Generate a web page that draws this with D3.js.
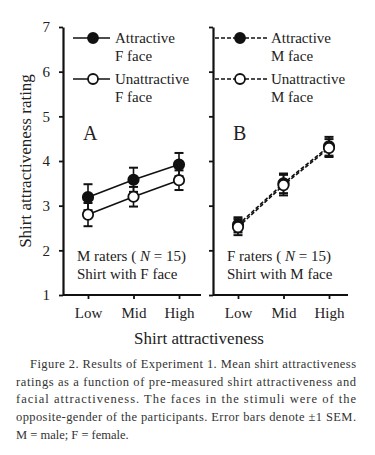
<!DOCTYPE html>
<html>
<head>
<meta charset="utf-8">
<script src="https://cdn.jsdelivr.net/npm/d3@7"></script>
<style>
  body { margin: 0; background: #fff; }
  svg { display: block; font-family: "Liberation Serif", "Times New Roman", serif; }
</style>
</head>
<body>
<div id="canvas"></div>
<script>
"use strict"

let svgWidth = 375;
let svgHeight = 455;

/* data */
let levels = ["Low", "Mid", "High"];
let yTicks = [1, 2, 3, 4, 5, 6, 7];

/* panel A: male raters, female face */
let attrF = [3.19, 3.58, 3.92];
let attrFSem = [0.29, 0.27, 0.26];
let unattrF = [2.80, 3.20, 3.57];
let unattrFSem = [0.26, 0.22, 0.22];

/* panel B: female raters, male face */
let attrM = [2.57, 3.50, 4.33];
let attrMSem = [0.17, 0.22, 0.21];
let unattrM = [2.52, 3.46, 4.29];
let unattrMSem = [0.18, 0.23, 0.20];

let captionLines = [
    "Figure 2. Results of Experiment 1. Mean shirt attractiveness",
    "ratings as a function of pre-measured shirt attractiveness and",
    "facial attractiveness. The faces in the stimuli were of the",
    "opposite-gender of the participants. Error bars denote \u00b11 SEM.",
    "M = male; F = female."
];

let svg = d3.select("#canvas")
    .append("svg")
    .attr("width", svgWidth)
    .attr("height", svgHeight);

let yScale = d3.scaleLinear()
    .domain([1, 7])
    .range([295, 27]);

let panels = [
    { x0: 63, x1: 201, label: "A", dashed: false, showLabels: true,
      series: [{ v: attrF, e: attrFSem, filled: true }, { v: unattrF, e: unattrFSem, filled: false }],
      legend: [["Attractive", "F face"], ["Unattractive", "F face"]],
      note: ["M raters ( ", "N", " = 15)", "Shirt with F face"] },
    { x0: 213, x1: 348, label: "B", dashed: true, showLabels: false,
      series: [{ v: attrM, e: attrMSem, filled: true }, { v: unattrM, e: unattrMSem, filled: false }],
      legend: [["Attractive", "M face"], ["Unattractive", "M face"]],
      note: ["F raters ( ", "N", " = 15)", "Shirt with M face"] }
];

panels.forEach(function (p) {
    let g = svg.append("g");

    let xScale = d3.scalePoint()
        .domain(levels)
        .range([p.x0 + 25, p.x0 + 116]);

    /* y axis */
    let yAxis = d3.axisLeft(yScale)
        .tickValues(yTicks)
        .tickFormat(d3.format("d"))
        .tickSize(4)
        .tickSizeOuter(0)
        .tickPadding(9);
    if (!p.showLabels) yAxis.tickFormat("");
    let ya = g.append("g")
        .attr("transform", "translate(" + p.x0 + ",0)")
        .call(yAxis);
    ya.selectAll("text").attr("font-size", 15).attr("font-family", "Liberation Serif").attr("fill", "#222");

    /* x axis */
    let xAxis = d3.axisBottom(xScale)
        .tickSize(4)
        .tickSizeOuter(0)
        .tickPadding(8);
    let xa = g.append("g")
        .attr("transform", "translate(0," + yScale(1) + ")")
        .call(xAxis);
    xa.select(".domain").attr("d", "M" + p.x0 + ",0H" + p.x1);
    xa.selectAll("text").attr("font-size", 15).attr("font-family", "Liberation Serif").attr("fill", "#222");

    svg.selectAll(".domain").attr("stroke-width", 2.2).attr("stroke", "#111");
    svg.selectAll(".tick line").attr("stroke-width", 1.8).attr("stroke", "#111");

    /* series: draw unfilled last so it sits on top */
    let line = d3.line()
        .x(function (d, i) { return xScale(levels[i]); })
        .y(function (d) { return yScale(d); });

    p.series.forEach(function (s) {
        g.append("path")
            .datum(s.v)
            .attr("d", line)
            .attr("fill", "none")
            .attr("stroke", "#111")
            .attr("stroke-width", 1.6)
            .attr("stroke-dasharray", p.dashed ? "4,2" : null);
    });

    p.series.forEach(function (s) {
        for (let i = 0; i < levels.length; i++) {
            let cx = xScale(levels[i]);
            let top = yScale(s.v[i] + s.e[i]);
            let bot = yScale(s.v[i] - s.e[i]);
            g.append("line")
                .attr("x1", cx).attr("x2", cx)
                .attr("y1", top).attr("y2", bot)
                .attr("stroke", "#111").attr("stroke-width", 1.6);
            [top, bot].forEach(function (yy) {
                g.append("line")
                    .attr("x1", cx - 4.5).attr("x2", cx + 4.5)
                    .attr("y1", yy).attr("y2", yy)
                    .attr("stroke", "#111").attr("stroke-width", 2);
            });
        }
        g.selectAll(null)
            .data(s.v)
            .join("circle")
            .attr("cx", function (d, i) { return xScale(levels[i]); })
            .attr("cy", function (d) { return yScale(d); })
            .attr("r", 5.2)
            .attr("fill", s.filled ? "#111" : "#fff")
            .attr("stroke", "#111")
            .attr("stroke-width", 1.8);
    });

    /* legend */
    for (let k = 0; k < 2; k++) {
        let ly = 38 + k * 41;
        let lx0 = p.x0 + (p.dashed ? 2 : 10);
        let lx1 = p.x0 + (p.dashed ? 54 : 47);
        let mx = p.x0 + (p.dashed ? 27 : 30);
        g.append("line")
            .attr("x1", lx0).attr("x2", lx1)
            .attr("y1", ly).attr("y2", ly)
            .attr("stroke", "#111").attr("stroke-width", 1.6)
            .attr("stroke-dasharray", p.dashed ? "4,2" : null);
        g.append("circle")
            .attr("cx", mx).attr("cy", ly).attr("r", 5)
            .attr("fill", k === 0 ? "#111" : "#fff")
            .attr("stroke", "#111").attr("stroke-width", 1.8);
        let tx = p.x0 + (p.dashed ? 58 : 52);
        g.append("text")
            .attr("x", tx).attr("y", ly + 5)
            .attr("font-size", 15).attr("fill", "#222")
            .text(p.legend[k][0]);
        g.append("text")
            .attr("x", tx).attr("y", ly + 23)
            .attr("font-size", 15).attr("fill", "#222")
            .text(p.legend[k][1]);
    }

    /* panel letter */
    g.append("text")
        .attr("x", p.x0 + 20).attr("y", 140)
        .attr("font-size", 20).attr("fill", "#222")
        .text(p.label);

    /* raters note */
    let note = g.append("text")
        .attr("x", p.x0 + 14).attr("y", 261)
        .attr("font-size", 15).attr("fill", "#222");
    note.append("tspan").text(p.note[0]);
    note.append("tspan").attr("font-style", "italic").text(p.note[1]);
    note.append("tspan").text(p.note[2]);
    g.append("text")
        .attr("x", p.x0 + 14).attr("y", 279)
        .attr("font-size", 15).attr("fill", "#222")
        .text(p.note[3]);
});

/* axis titles */
svg.append("text")
    .attr("x", 199).attr("y", 344)
    .attr("text-anchor", "middle")
    .attr("font-size", 17).attr("fill", "#222")
    .text("Shirt attractiveness");

svg.append("text")
    .attr("transform", "translate(31,161) rotate(-90)")
    .attr("text-anchor", "middle")
    .attr("font-size", 17).attr("fill", "#222")
    .text("Shirt attractiveness rating");

/* caption, justified lines */
for (let i = 0; i < captionLines.length; i++) {
    let x = i === 0 ? 30 : 16;
    let t = svg.append("text")
        .attr("x", x).attr("y", 368 + i * 17.7)
        .attr("font-size", 12.5).attr("fill", "#333")
        .text(captionLines[i]);
    if (i < captionLines.length - 1) {
        t.attr("textLength", 356 - x).attr("lengthAdjust", "spacing");
    }
}
</script>
</body>
</html>
